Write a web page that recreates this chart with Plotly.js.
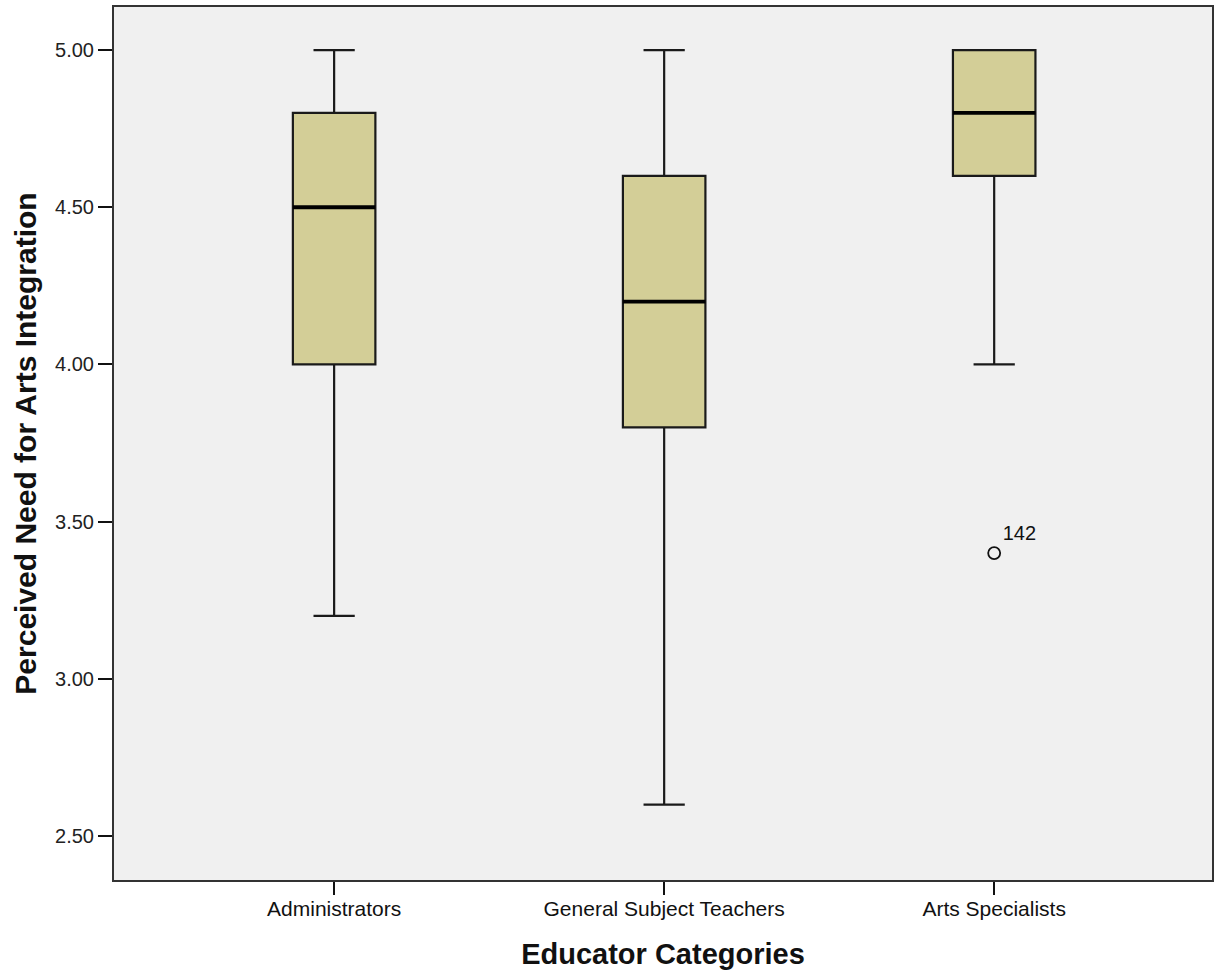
<!DOCTYPE html>
<html>
<head>
<meta charset="utf-8">
<script src="https://cdn.plot.ly/plotly-3.0.1.min.js"></script>
<style>html,body{margin:0;padding:0;background:#fff;}#chart{width:1217px;height:973px;}</style>
</head>
<body>
<div id="chart"></div>
<script>
const categories = ["Administrators", "General Subject Teachers", "Arts Specialists"];
const lowerWhisker = [3.2, 2.6, 4.0];
const q1Values = [4.0, 3.8, 4.6];
const medianValues = [4.5, 4.2, 4.8];
const q3Values = [4.8, 4.6, 5.0];
const upperWhisker = [5.0, 5.0, 5.0];
const outlierCategory = [2];
const outlierValues = [3.4];
const outlierLabels = ["142"];
const yTicks = [2.5, 3.0, 3.5, 4.0, 4.5, 5.0];

const xIdx = categories.map((c, i) => i);

const boxTrace = {
  type: "box",
  x: xIdx,
  q1: q1Values,
  median: medianValues,
  q3: q3Values,
  lowerfence: lowerWhisker,
  upperfence: upperWhisker,
  width: 0.25,
  whiskerwidth: 0.5,
  fillcolor: "#D3CE97",
  line: { color: "#1a1a1a", width: 2.2 },
  boxpoints: false,
  hoverinfo: "skip",
  showlegend: false
};

const medianTrace = {
  type: "box",
  x: xIdx,
  q1: medianValues,
  median: medianValues,
  q3: medianValues,
  lowerfence: medianValues,
  upperfence: medianValues,
  width: 0.25,
  whiskerwidth: 0,
  fillcolor: "rgba(0,0,0,0)",
  line: { color: "#000000", width: 3.8 },
  boxpoints: false,
  hoverinfo: "skip",
  showlegend: false
};

const outlierTrace = {
  type: "scatter",
  mode: "markers+text",
  x: outlierCategory,
  y: outlierValues,
  text: outlierLabels,
  textposition: "top right",
  textfont: { family: "Liberation Sans, Arial, sans-serif", size: 20, color: "#111" },
  marker: { symbol: "circle-open", size: 12, color: "#111", line: { width: 1.8, color: "#111" } },
  cliponaxis: false,
  hoverinfo: "skip",
  showlegend: false
};

const layout = {
  width: 1217,
  height: 973,
  margin: { l: 114, r: 5, t: 7, b: 93 },
  paper_bgcolor: "#ffffff",
  plot_bgcolor: "#F0F0F0",
  boxmode: "overlay",
  font: { family: "Liberation Sans, Arial, sans-serif", color: "#222" },
  xaxis: {
    range: [-0.667, 2.66],
    tickvals: xIdx,
    ticktext: categories,
    ticks: "outside",
    ticklen: 13,
    tickwidth: 2,
    tickcolor: "#111",
    tickfont: { size: 21, color: "#111" },
    ticklabelstandoff: -4,
    showgrid: false,
    zeroline: false,
    showline: true,
    linecolor: "#333",
    linewidth: 2,
    mirror: true,
    title: { text: "<b>Educator Categories</b>", font: { size: 29, color: "#111" }, standoff: 24 }
  },
  yaxis: {
    range: [2.36, 5.137],
    tickvals: yTicks,
    tickformat: ".2f",
    ticks: "outside",
    ticklen: 14,
    tickwidth: 2,
    tickcolor: "#111",
    tickfont: { size: 20, color: "#222" },
    showgrid: false,
    zeroline: false,
    showline: true,
    linecolor: "#333",
    linewidth: 2,
    mirror: true,
    title: { text: "<b>Perceived Need for Arts Integration</b>", font: { size: 30, color: "#111" }, standoff: 10 }
  }
};

Plotly.newPlot("chart", [boxTrace, medianTrace, outlierTrace], layout, { displayModeBar: false, staticPlot: true });
</script>
</body>
</html>
